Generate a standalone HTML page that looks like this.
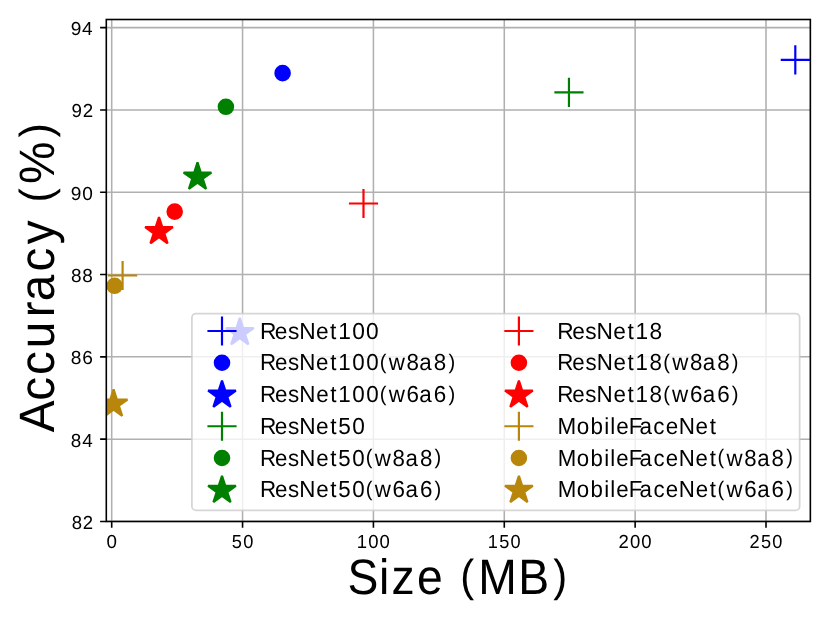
<!DOCTYPE html>
<html><head><meta charset="utf-8"><title>Accuracy vs Size</title>
<style>html,body{margin:0;padding:0;background:#fff}svg{display:block;will-change:transform}text{font-family:"Liberation Sans",sans-serif;fill:#000;text-rendering:geometricPrecision}</style></head>
<body>
<svg width="830" height="623" viewBox="0 0 830 623">
<rect width="830" height="623" fill="#fff"/>
<defs><clipPath id="ax"><rect x="106.3" y="19.5" width="704.05" height="501.95"/></clipPath>
</defs>
<path d="M111.7 19.5V521.45M242.56 19.5V521.45M373.42 19.5V521.45M504.28 19.5V521.45M635.14 19.5V521.45M766 19.5V521.45M106.3 521.45H810.35M106.3 439.15H810.35M106.3 356.84H810.35M106.3 274.54H810.35M106.3 192.23H810.35M106.3 109.93H810.35M106.3 27.62H810.35" stroke="#b0b0b0" stroke-width="1.55" fill="none"/>
<g clip-path="url(#ax)">
<path transform="translate(795.3 59.95)" d="M-14.58 0H14.58M0 -14.58V14.58" stroke="#0000ff" stroke-width="2.19" fill="none"/>
<circle cx="282.6" cy="73.15" r="7.29" fill="#0000ff" stroke="#0000ff" stroke-width="2"/>
<polygon transform="translate(239.8 332.5)" points="0,-14.58 -3.27,-4.51 -13.87,-4.51 -5.3,1.72 -8.57,11.8 -0,5.57 8.57,11.8 5.3,1.72 13.87,-4.51 3.27,-4.51" fill="#0000ff" stroke="#0000ff" stroke-width="2.19" stroke-linejoin="bevel"/>
<path transform="translate(568.95 92.45)" d="M-14.58 0H14.58M0 -14.58V14.58" stroke="#008000" stroke-width="2.19" fill="none"/>
<circle cx="225.9" cy="106.8" r="7.29" fill="#008000" stroke="#008000" stroke-width="2"/>
<polygon transform="translate(197.5 177)" points="0,-14.58 -3.27,-4.51 -13.87,-4.51 -5.3,1.72 -8.57,11.8 -0,5.57 8.57,11.8 5.3,1.72 13.87,-4.51 3.27,-4.51" fill="#008000" stroke="#008000" stroke-width="2.19" stroke-linejoin="bevel"/>
<path transform="translate(363.5 203.5)" d="M-14.58 0H14.58M0 -14.58V14.58" stroke="#ff0000" stroke-width="2.19" fill="none"/>
<circle cx="174.7" cy="211.6" r="7.29" fill="#ff0000" stroke="#ff0000" stroke-width="2"/>
<polygon transform="translate(159 231.6)" points="0,-14.58 -3.27,-4.51 -13.87,-4.51 -5.3,1.72 -8.57,11.8 -0,5.57 8.57,11.8 5.3,1.72 13.87,-4.51 3.27,-4.51" fill="#ff0000" stroke="#ff0000" stroke-width="2.19" stroke-linejoin="bevel"/>
<path transform="translate(122.6 275.5)" d="M-14.58 0H14.58M0 -14.58V14.58" stroke="#b8860b" stroke-width="2.19" fill="none"/>
<circle cx="114.6" cy="285.8" r="7.29" fill="#b8860b" stroke="#b8860b" stroke-width="2"/>
<polygon transform="translate(113.6 404)" points="0,-14.58 -3.27,-4.51 -13.87,-4.51 -5.3,1.72 -8.57,11.8 -0,5.57 8.57,11.8 5.3,1.72 13.87,-4.51 3.27,-4.51" fill="#b8860b" stroke="#b8860b" stroke-width="2.19" stroke-linejoin="bevel"/>
</g>
<path d="M111.7 521.45v6.2M242.56 521.45v6.2M373.42 521.45v6.2M504.28 521.45v6.2M635.14 521.45v6.2M766 521.45v6.2M106.3 521.45h-6.2M106.3 439.15h-6.2M106.3 356.84h-6.2M106.3 274.54h-6.2M106.3 192.23h-6.2M106.3 109.93h-6.2M106.3 27.62h-6.2" stroke="#000" stroke-width="1.6" fill="none"/>
<rect x="106.3" y="19.5" width="704.05" height="501.95" fill="none" stroke="#000" stroke-width="1.6"/>
<text transform="scale(0.9948 1)" x="107.03" y="548.1" font-size="18.86">0</text>
<text transform="scale(0.9670 1)" x="239.67 251.45" y="548.1" font-size="18.86">50</text>
<text transform="scale(0.9810 1)" x="363.78 375.42 386.96" y="548.1" font-size="18.86">100</text>
<text transform="scale(0.9617 1)" x="507.23 519.02 530.87" y="548.1" font-size="18.86">150</text>
<text transform="scale(0.9833 1)" x="628.95 640.71 652.23" y="548.1" font-size="18.86">200</text>
<text transform="scale(0.9644 1)" x="777.06 788.98 800.79" y="548.1" font-size="18.86">250</text>
<text transform="scale(0.9826 1)" x="72.95 84.24" y="528.85" font-size="18.86">82</text>
<text transform="scale(1.0001 1)" x="70.81 82.13" y="446.55" font-size="18.86">84</text>
<text transform="scale(1.0175 1)" x="69.62 80.75" y="364.24" font-size="18.86">86</text>
<text transform="scale(1.0056 1)" x="70.6 81.87" y="281.94" font-size="18.86">88</text>
<text transform="scale(1.0109 1)" x="70.12 81.37" y="199.63" font-size="18.86">90</text>
<text transform="scale(0.9935 1)" x="72.04 83.26" y="117.33" font-size="18.86">92</text>
<text transform="scale(1.0105 1)" x="69.96 81.23" y="35.02" font-size="18.86">94</text>
<text transform="scale(0.9318 1)" font-size="49.7"><tspan x="372.95 406.73 420.23 447.4 476.6" y="594.1">Size </tspan><tspan x="493.85" y="591.01" font-size="44.84">(</tspan><tspan x="513.27 556.32" y="594.1">MB</tspan><tspan x="593.67" y="591.01" font-size="44.84">)</tspan></text>
<text transform="translate(54.3 432.1) rotate(-90) scale(0.9608 1)" font-size="49.7"><tspan x="-0.27 32.58 59.42 87.37 119.5 136.16 167.17 195.58 222.46" y="0">Accuracy </tspan><tspan x="238.92" y="-3.09" font-size="44.84">(</tspan><tspan x="258.12" y="0">%</tspan><tspan x="306.57" y="-3.09" font-size="44.84">)</tspan></text>
<rect x="191.9" y="313.5" width="607.75" height="196.95" rx="4.2" ry="4.2" fill="#fff" fill-opacity="0.8" stroke="#ccc" stroke-opacity="0.8" stroke-width="1.75"/>
<path transform="translate(222 331)" d="M-14.58 0H14.58M0 -14.58V14.58" stroke="#0000ff" stroke-width="2.19" fill="none"/>
<circle cx="222" cy="362.75" r="7.29" fill="#0000ff" stroke="#0000ff" stroke-width="2"/>
<polygon transform="translate(222 395.1)" points="0,-14.58 -3.27,-4.51 -13.87,-4.51 -5.3,1.72 -8.57,11.8 -0,5.57 8.57,11.8 5.3,1.72 13.87,-4.51 3.27,-4.51" fill="#0000ff" stroke="#0000ff" stroke-width="2.19" stroke-linejoin="bevel"/>
<text transform="scale(0.9811 1)" x="264.9 280.11 293.54 304.95 322.12 336.48 344.65 358.95 373.14" y="338.55" font-size="23.18">ResNet100</text>
<text transform="scale(0.9648 1)" font-size="23.18"><tspan x="269.52 284.95 298.59 310.24 327.67 342.21 350.58 365.12 379.54" y="370.3">ResNet100</tspan><tspan x="393.63" y="368.86" font-size="20.91">(</tspan><tspan x="402.94 421.36 434.68 449.67" y="370.3">w8a8</tspan><tspan x="464.8" y="368.86" font-size="20.91">)</tspan></text>
<text transform="scale(0.9680 1)" font-size="23.18"><tspan x="268.61 283.99 297.6 309.2 326.58 341.08 349.41 363.9 378.28" y="402.05">ResNet100</tspan><tspan x="392.33" y="400.61" font-size="20.91">(</tspan><tspan x="401.6 419.96 433.24 448.19" y="402.05">w6a6</tspan><tspan x="463.27" y="400.61" font-size="20.91">)</tspan></text>
<path transform="translate(222 426.25)" d="M-14.58 0H14.58M0 -14.58V14.58" stroke="#008000" stroke-width="2.19" fill="none"/>
<circle cx="222" cy="458" r="7.29" fill="#008000" stroke="#008000" stroke-width="2"/>
<polygon transform="translate(222 490.35)" points="0,-14.58 -3.27,-4.51 -13.87,-4.51 -5.3,1.72 -8.57,11.8 -0,5.57 8.57,11.8 5.3,1.72 13.87,-4.51 3.27,-4.51" fill="#008000" stroke="#008000" stroke-width="2.19" stroke-linejoin="bevel"/>
<text transform="scale(0.9776 1)" x="265.89 281.15 294.62 306.09 323.31 337.71 345.95 360.28" y="433.8" font-size="23.18">ResNet50</text>
<text transform="scale(0.9616 1)" font-size="23.18"><tspan x="270.44 285.91 299.6 311.29 328.77 343.35 351.79 366.35" y="465.55">ResNet50</tspan><tspan x="380.47" y="464.11" font-size="20.91">(</tspan><tspan x="389.83 408.3 421.67 436.71" y="465.55">w8a8</tspan><tspan x="451.87" y="464.11" font-size="20.91">)</tspan></text>
<text transform="scale(0.9650 1)" font-size="23.18"><tspan x="269.46 284.89 298.53 310.18 327.6 342.14 350.54 365.05" y="497.3">ResNet50</tspan><tspan x="379.13" y="495.86" font-size="20.91">(</tspan><tspan x="388.44 406.85 420.17 435.17" y="497.3">w6a6</tspan><tspan x="450.29" y="495.86" font-size="20.91">)</tspan></text>
<path transform="translate(518.9 331)" d="M-14.58 0H14.58M0 -14.58V14.58" stroke="#ff0000" stroke-width="2.19" fill="none"/>
<circle cx="518.9" cy="362.75" r="7.29" fill="#ff0000" stroke="#ff0000" stroke-width="2"/>
<polygon transform="translate(518.9 395.1)" points="0,-14.58 -3.27,-4.51 -13.87,-4.51 -5.3,1.72 -8.57,11.8 -0,5.57 8.57,11.8 5.3,1.72 13.87,-4.51 3.27,-4.51" fill="#ff0000" stroke="#ff0000" stroke-width="2.19" stroke-linejoin="bevel"/>
<text transform="scale(0.9807 1)" x="568.18 583.4 596.84 608.25 625.43 639.79 647.97 662.28" y="338.55" font-size="23.18">ResNet18</text>
<text transform="scale(0.9633 1)" font-size="23.18"><tspan x="578.57 594.02 607.69 619.36 636.81 651.37 659.76 674.32" y="370.3">ResNet18</tspan><tspan x="688.42" y="368.86" font-size="20.91">(</tspan><tspan x="697.76 716.2 729.54 744.56" y="370.3">w8a8</tspan><tspan x="759.7" y="368.86" font-size="20.91">)</tspan></text>
<text transform="scale(0.9667 1)" font-size="23.18"><tspan x="576.51 591.91 605.53 617.15 634.55 649.07 657.42 671.93" y="402.05">ResNet18</tspan><tspan x="685.99" y="400.61" font-size="20.91">(</tspan><tspan x="695.28 713.66 726.95 741.92" y="402.05">w6a6</tspan><tspan x="757.02" y="400.61" font-size="20.91">)</tspan></text>
<path transform="translate(518.9 426.25)" d="M-14.58 0H14.58M0 -14.58V14.58" stroke="#b8860b" stroke-width="2.19" fill="none"/>
<circle cx="518.9" cy="458" r="7.29" fill="#b8860b" stroke="#b8860b" stroke-width="2"/>
<polygon transform="translate(518.9 490.35)" points="0,-14.58 -3.27,-4.51 -13.87,-4.51 -5.3,1.72 -8.57,11.8 -0,5.57 8.57,11.8 5.3,1.72 13.87,-4.51 3.27,-4.51" fill="#b8860b" stroke="#b8860b" stroke-width="2.19" stroke-linejoin="bevel"/>
<text transform="scale(0.9687 1)" x="575.59 595.44 609.66 623.7 629.96 636.22 648.95 660.12 674.47 687.29 700.71 718.07 732.57" y="433.8" font-size="23.18">MobileFaceNet</text>
<text transform="scale(0.9590 1)" font-size="23.18"><tspan x="581.48 601.51 615.87 630.01 636.34 642.7 655.57 666.84 681.33 694.28 707.85 725.37 739.99" y="465.55">MobileFaceNet</tspan><tspan x="748.18" y="464.11" font-size="20.91">(</tspan><tspan x="757.58 776.1 789.5 804.59" y="465.55">w8a8</tspan><tspan x="819.78" y="464.11" font-size="20.91">)</tspan></text>
<text transform="scale(0.9617 1)" font-size="23.18"><tspan x="579.85 599.83 614.15 628.26 634.57 640.9 653.73 664.98 679.43 692.34 705.87 723.35 737.93" y="497.3">MobileFaceNet</tspan><tspan x="746.1" y="495.86" font-size="20.91">(</tspan><tspan x="755.46 773.94 787.3 802.35" y="497.3">w6a6</tspan><tspan x="817.51" y="495.86" font-size="20.91">)</tspan></text>
</svg>
</body></html>
